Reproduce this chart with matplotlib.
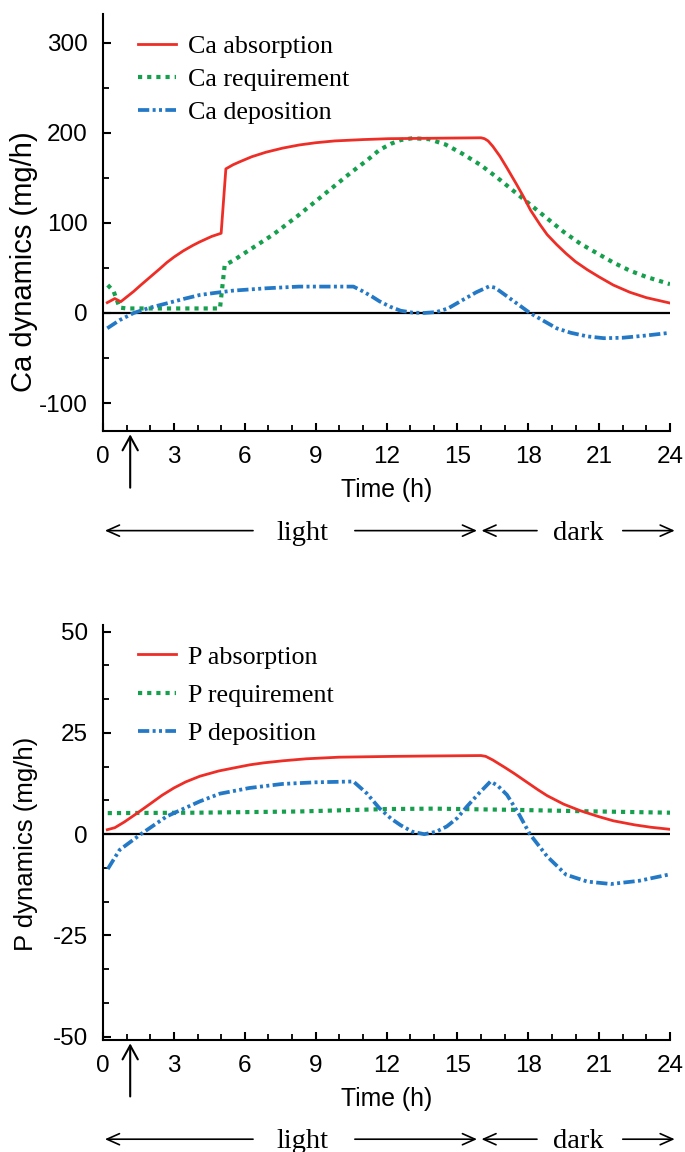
import numpy as np
import matplotlib
matplotlib.use('Agg')
import matplotlib.pyplot as plt
from matplotlib.ticker import MultipleLocator
import matplotlib.transforms as mtransforms

plt.rcParams['font.family'] = ['Liberation Sans', 'DejaVu Sans']
plt.rcParams['axes.unicode_minus'] = False

RED = '#ee2e26'
GREEN = '#16a04e'
BLUE = '#2479c6'

# ---- Ca panel ----
ca_abs_t = [0.18, 0.5, 0.75, 1.3, 1.6, 2.0, 2.4, 2.7, 3.0, 3.4, 3.8, 4.1, 4.6, 5.0,
            5.2, 5.5, 5.8, 6.3, 6.9, 7.6, 8.3, 9.0, 9.8, 11.0, 12.1, 14.0, 16.0,
            16.15, 16.3, 16.5, 16.8, 17.1, 17.5, 17.8, 18.1, 18.5, 18.8, 19.2, 19.6,
            20.0, 20.5, 21.0, 21.6, 22.3, 23.0, 23.5, 24.0]
ca_abs_v = [11.5, 16, 12.5, 24, 31, 40, 49, 56, 62, 69, 75, 79, 85, 88.5,
            160, 164.5, 168, 173.5, 178.5, 183, 186.5, 189, 191, 192.5, 193.5, 194, 194.5,
            193.5, 191, 185, 174, 161, 143, 129, 114, 98, 87, 76, 66,
            57, 48, 40, 31, 23, 17, 14, 11]

ca_req_t = [0.2, 0.45, 0.7, 1.0, 4.95, 5.15, 5.5, 6.2, 7.2, 8.3, 9.0, 9.75, 10.5, 11.2,
            11.7, 12.2, 12.6, 13.1, 13.8, 14.5, 15.2, 16.0, 16.7, 17.4, 18.1, 18.8,
            19.5, 20.2, 21.0, 21.6, 22.3, 23.0, 24.0]
ca_req_v = [31, 24, 6, 5, 5, 53, 58, 70, 87, 109, 124, 140, 156, 170,
            181, 188, 192, 194, 193, 187, 177, 164, 150, 135, 120, 105,
            90, 77, 65, 56, 47, 40, 32]

ca_dep_t = [0.18, 0.7, 1.3, 2.0, 2.7, 3.4, 4.1, 4.8, 5.5, 6.9, 8.3, 10.6, 11.0, 11.4,
            11.7, 12.15, 12.6, 13.1, 13.6, 14.1, 14.6, 15.25, 15.8, 16.35, 16.6, 17.1,
            17.6, 18.07, 18.6, 19.2, 19.8, 20.5, 21.2, 22.0, 23.0, 24.0]
ca_dep_v = [-17, -8, 0, 6, 10.7, 15.5, 20, 22.5, 24.8, 27.4, 29.3, 29.3, 24, 18,
            13, 7, 2.5, 0.4, 0, 1, 5, 14.8, 23, 29.6, 28, 18.5,
            9, 0, -8, -17, -22, -26, -28, -27.5, -25, -22]

# ---- P panel ----
p_abs_t = [0.18, 0.5, 0.9, 1.4, 2.0, 2.5, 3.0, 3.5, 4.1, 4.9, 5.5, 6.2, 6.8, 7.6, 8.6,
           10.0, 12.3, 14.0, 16.0, 16.2, 16.5, 17.0, 17.4, 17.9, 18.4, 18.8, 19.5,
           20.2, 21.0, 21.6, 22.5, 23.2, 24.0]
p_abs_v = [1.1, 1.6, 3.0, 5.0, 7.5, 9.6, 11.4, 12.9, 14.3, 15.6, 16.3, 17.1, 17.6, 18.1, 18.6,
           19.0, 19.2, 19.3, 19.4, 19.2, 18.3, 16.5, 15.0, 13.0, 11.0, 9.5, 7.4,
           5.8, 4.3, 3.3, 2.3, 1.7, 1.2]

p_req_t = [0.2, 4.0, 8.3, 12.0, 14.0, 17.4, 20.0, 24.0]
p_req_v = [5.2, 5.3, 5.6, 6.2, 6.3, 6.0, 5.7, 5.3]

p_dep_t = [0.2, 0.7, 1.6, 2.7, 4.1, 4.95, 6.2, 7.6, 9.0, 10.6, 11.16, 11.7, 12.2, 12.6,
           13.1, 13.6, 14.1, 14.55, 15.0, 15.4, 15.9, 16.4, 16.7, 17.1, 17.6, 18.07,
           18.8, 19.6, 20.5, 21.5, 22.7, 24.0]
p_dep_v = [-8.6, -3.9, 0, 4.4, 8.1, 10, 11.4, 12.4, 12.8, 13.0, 10.1, 6.4, 3.8, 2.2,
           0.6, 0, 0.6, 1.9, 4, 6.8, 10, 13, 12, 9.7, 5, 0,
           -5.5, -10, -11.7, -12.3, -11.5, -9.9]

x_ticks = [0, 3, 6, 9, 12, 15, 18, 21, 24]

fig = plt.figure(figsize=(6.85, 11.52), dpi=100)
ax1 = fig.add_axes([0.1504, 0.6259, 0.8277, 0.362])
ax2 = fig.add_axes([0.1504, 0.0972, 0.8277, 0.3602])


def draw_panel(ax, abs_t, abs_v, req_t, req_v, dep_t, dep_v, names):
    ax.axhline(0, color='black', lw=1.6, zorder=1)
    ax.plot(abs_t, abs_v, color=RED, lw=2.0, label=names[0], zorder=3)
    ax.plot(req_t, req_v, color=GREEN, lw=3.0, linestyle=(0, (1, 1.2)),
            dash_capstyle='butt', label=names[1], zorder=2)
    ax.plot(dep_t, dep_v, color=BLUE, lw=2.7, linestyle=(0, (3.0, 0.9, 0.8, 0.9, 0.8, 0.9)),
            dash_capstyle='butt', label=names[2], zorder=2)
    ax.set_xlim(0, 24)
    ax.xaxis.set_minor_locator(MultipleLocator(1))
    ax.set_xticks(x_ticks)
    for side in ['top', 'right']:
        ax.spines[side].set_visible(False)
    for side in ['left', 'bottom']:
        ax.spines[side].set_linewidth(1.5)
    ax.tick_params(which='major', direction='in', length=6, width=1.5,
                   labelsize=17.5, pad=11)
    ax.tick_params(which='minor', direction='in', length=4.5, width=1.3)
    ax.set_xlabel('Time (h)', fontsize=17.8)
    ax.xaxis.set_label_coords(0.5, -0.113)

    # arrow marking time on the x axis
    ax.annotate('', xy=(1.15, -0.008), xytext=(1.15, -0.136),
                xycoords=('data', 'axes fraction'), textcoords=('data', 'axes fraction'),
                arrowprops=dict(arrowstyle='->,head_length=1.0,head_width=0.55',
                                lw=1.5, color='black', shrinkA=0, shrinkB=0),
                annotation_clip=False)

    # light / dark bar
    tr = mtransforms.blended_transform_factory(ax.transData, ax.transAxes)
    yb = -0.239
    segs = [(6.35, 0.08), (10.66, 15.83), (18.37, 16.02), (22.0, 24.2)]
    for a, b in segs:
        ax.annotate('', xy=(b, yb), xytext=(a, yb), xycoords=tr, textcoords=tr,
                    arrowprops=dict(arrowstyle='->,head_length=0.9,head_width=0.4',
                                    lw=1.2, color='black', shrinkA=0, shrinkB=0),
                    annotation_clip=False)
    ax.text(8.46, yb - 0.006, 'light', transform=tr, ha='center', va='center',
            fontsize=20.5, family='Liberation Serif')
    ax.text(20.14, yb - 0.006, 'dark', transform=tr, ha='center', va='center',
            fontsize=20.5, family='Liberation Serif')


draw_panel(ax1, ca_abs_t, ca_abs_v, ca_req_t, ca_req_v, ca_dep_t, ca_dep_v,
           ['Ca absorption', 'Ca requirement', 'Ca deposition'])
ax1.set_ylim(-131, 332)
ax1.set_yticks([-100, 0, 100, 200, 300])
ax1.yaxis.set_minor_locator(MultipleLocator(50))
ax1.set_ylabel('Ca dynamics (mg/h)', fontsize=21)
ax1.yaxis.set_label_coords(-0.115, 0.405)
ax1.legend(loc='upper left', bbox_to_anchor=(0.0617, 0.950), frameon=False,
           borderpad=0, borderaxespad=0, handlelength=1.45, handletextpad=0.46,
           labelspacing=0.38, prop={'family': 'Liberation Serif', 'size': 18.7})

draw_panel(ax2, p_abs_t, p_abs_v, p_req_t, p_req_v, p_dep_t, p_dep_v,
           ['P absorption', 'P requirement', 'P deposition'])
ax2.set_ylim(-50.8, 51.6)
ax2.set_yticks([-50, -25, 0, 25, 50])
ax2.yaxis.set_minor_locator(MultipleLocator(25 / 3))
ax2.set_ylabel('P dynamics (mg/h)', fontsize=18.5)
ax2.yaxis.set_label_coords(-0.115, 0.4735)
ax2.legend(loc='upper left', bbox_to_anchor=(0.0617, 0.951), frameon=False,
           borderpad=0, borderaxespad=0, handlelength=1.45, handletextpad=0.46,
           labelspacing=0.58, prop={'family': 'Liberation Serif', 'size': 18.7})

fig.savefig('out.png', dpi=100)
